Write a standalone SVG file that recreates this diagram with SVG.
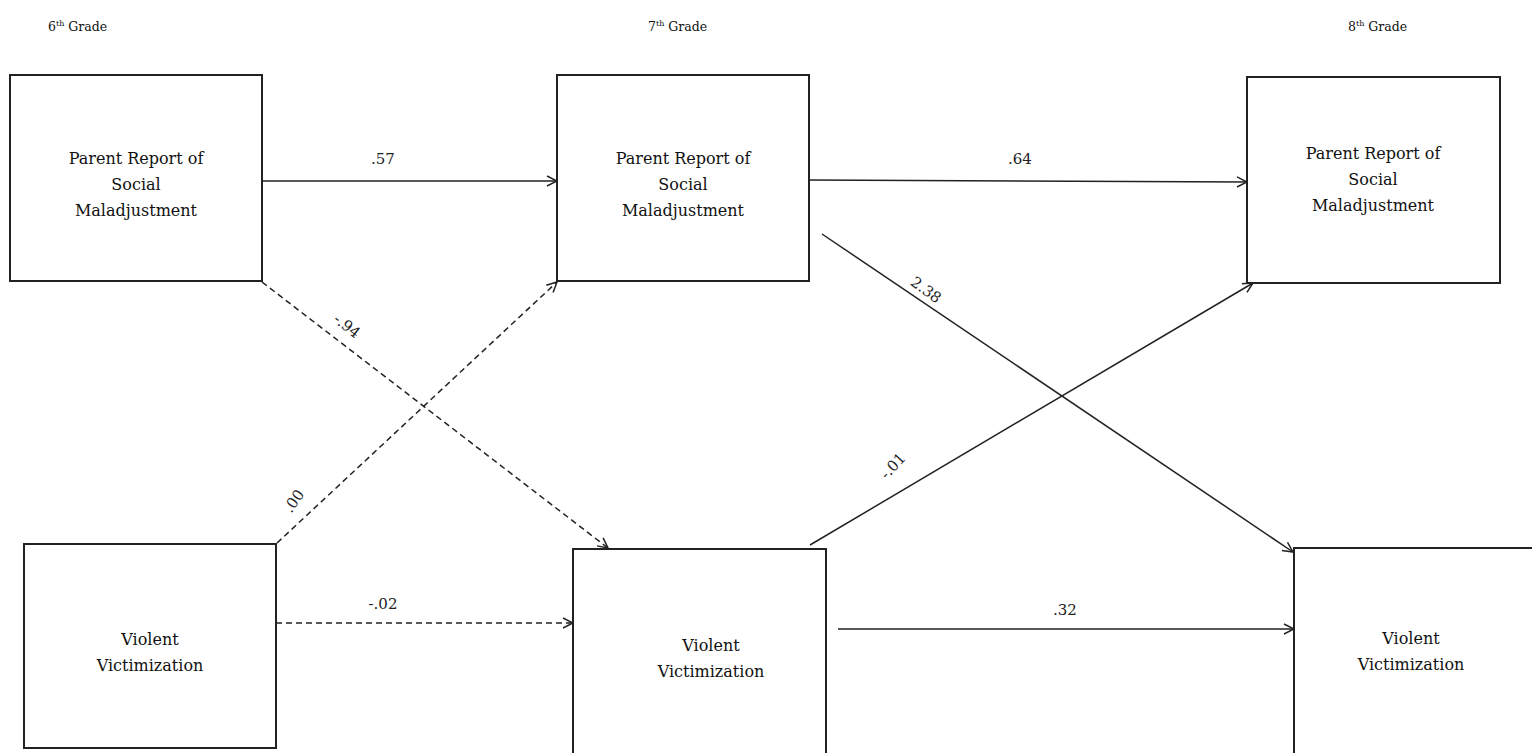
<svg xmlns="http://www.w3.org/2000/svg" width="1532" height="753" viewBox="0 0 1532 753">
<defs>
<style>
.box{fill:#fff;stroke:#222;stroke-width:2}
.t{font-family:'DejaVu Serif','Liberation Serif',serif;font-size:16px;fill:#111;text-anchor:middle}
.g{font-family:'DejaVu Serif','Liberation Serif',serif;font-size:12.5px;fill:#111}
.lb{font-family:'DejaVu Serif','Liberation Serif',serif;font-size:15px;fill:#222;text-anchor:middle}
.c{stroke:#222;stroke-width:1.5;fill:none;marker-end:url(#ah)}
.d{stroke-dasharray:6 4}
</style>
<marker id="ah" viewBox="0 0 12 12" refX="11" refY="6" markerWidth="12" markerHeight="12" markerUnits="userSpaceOnUse" orient="auto">
<path d="M1,1 L11,6 L1,11" fill="none" stroke="#222" stroke-width="1.5"/>
</marker>
</defs>
<rect width="1532" height="753" fill="#fff"/>
<g id="headers">
<text class="g" x="48" y="31">6<tspan font-size="8" dy="-5">th</tspan><tspan dy="5"> Grade</tspan></text>
<text class="g" x="648" y="31">7<tspan font-size="8" dy="-5">th</tspan><tspan dy="5"> Grade</tspan></text>
<text class="g" x="1348" y="31">8<tspan font-size="8" dy="-5">th</tspan><tspan dy="5"> Grade</tspan></text>
</g>
<g id="prsm6">
<rect class="box" x="10" y="75" width="252" height="206"/>
<text class="t" x="136" y="164">Parent Report of</text>
<text class="t" x="136" y="190">Social</text>
<text class="t" x="136" y="216">Maladjustment</text>
</g>
<g id="prsm7">
<rect class="box" x="557" y="75" width="252" height="206"/>
<text class="t" x="683" y="164">Parent Report of</text>
<text class="t" x="683" y="190">Social</text>
<text class="t" x="683" y="216">Maladjustment</text>
</g>
<g id="prsm8">
<rect class="box" x="1247" y="77" width="253" height="206"/>
<text class="t" x="1373" y="159">Parent Report of</text>
<text class="t" x="1373" y="185">Social</text>
<text class="t" x="1373" y="211">Maladjustment</text>
</g>
<g id="vv6">
<rect class="box" x="24" y="544" width="252" height="204"/>
<text class="t" x="150" y="645">Violent</text>
<text class="t" x="150" y="671">Victimization</text>
</g>
<g id="vv7">
<rect class="box" x="573" y="549" width="253" height="206"/>
<text class="t" x="711" y="651">Violent</text>
<text class="t" x="711" y="677">Victimization</text>
</g>
<g id="vv8">
<rect class="box" x="1294" y="548" width="250" height="210"/>
<text class="t" x="1411" y="644">Violent</text>
<text class="t" x="1411" y="670">Victimization</text>
</g>
<g id="connectors">
<line class="c" x1="262" y1="181" x2="557" y2="181"/>
<line class="c" x1="809" y1="180" x2="1247" y2="182"/>
<line class="c" x1="822" y1="234" x2="1293" y2="552"/>
<line class="c d" x1="262" y1="282" x2="608" y2="548"/>
<line class="c d" x1="277" y1="543" x2="557" y2="282"/>
<line class="c d" x1="276" y1="623" x2="573" y2="623"/>
<line class="c" x1="810" y1="545" x2="1253" y2="283"/>
<line class="c" x1="838" y1="629" x2="1294" y2="629"/>
</g>
<g id="labels">
<text class="lb" x="383" y="164">.57</text>
<text class="lb" x="1020" y="164">.64</text>
<text class="lb" x="383" y="609">-.02</text>
<text class="lb" x="1065" y="615">.32</text>
<text class="lb" transform="translate(347,326) rotate(38)" y="5">-.94</text>
<text class="lb" transform="translate(294,501) rotate(-55)" y="5">.00</text>
<text class="lb" transform="translate(926,290) rotate(36)" y="5">2.38</text>
<text class="lb" transform="translate(893,466) rotate(-47)" y="5">-.01</text>
</g>
</svg>
